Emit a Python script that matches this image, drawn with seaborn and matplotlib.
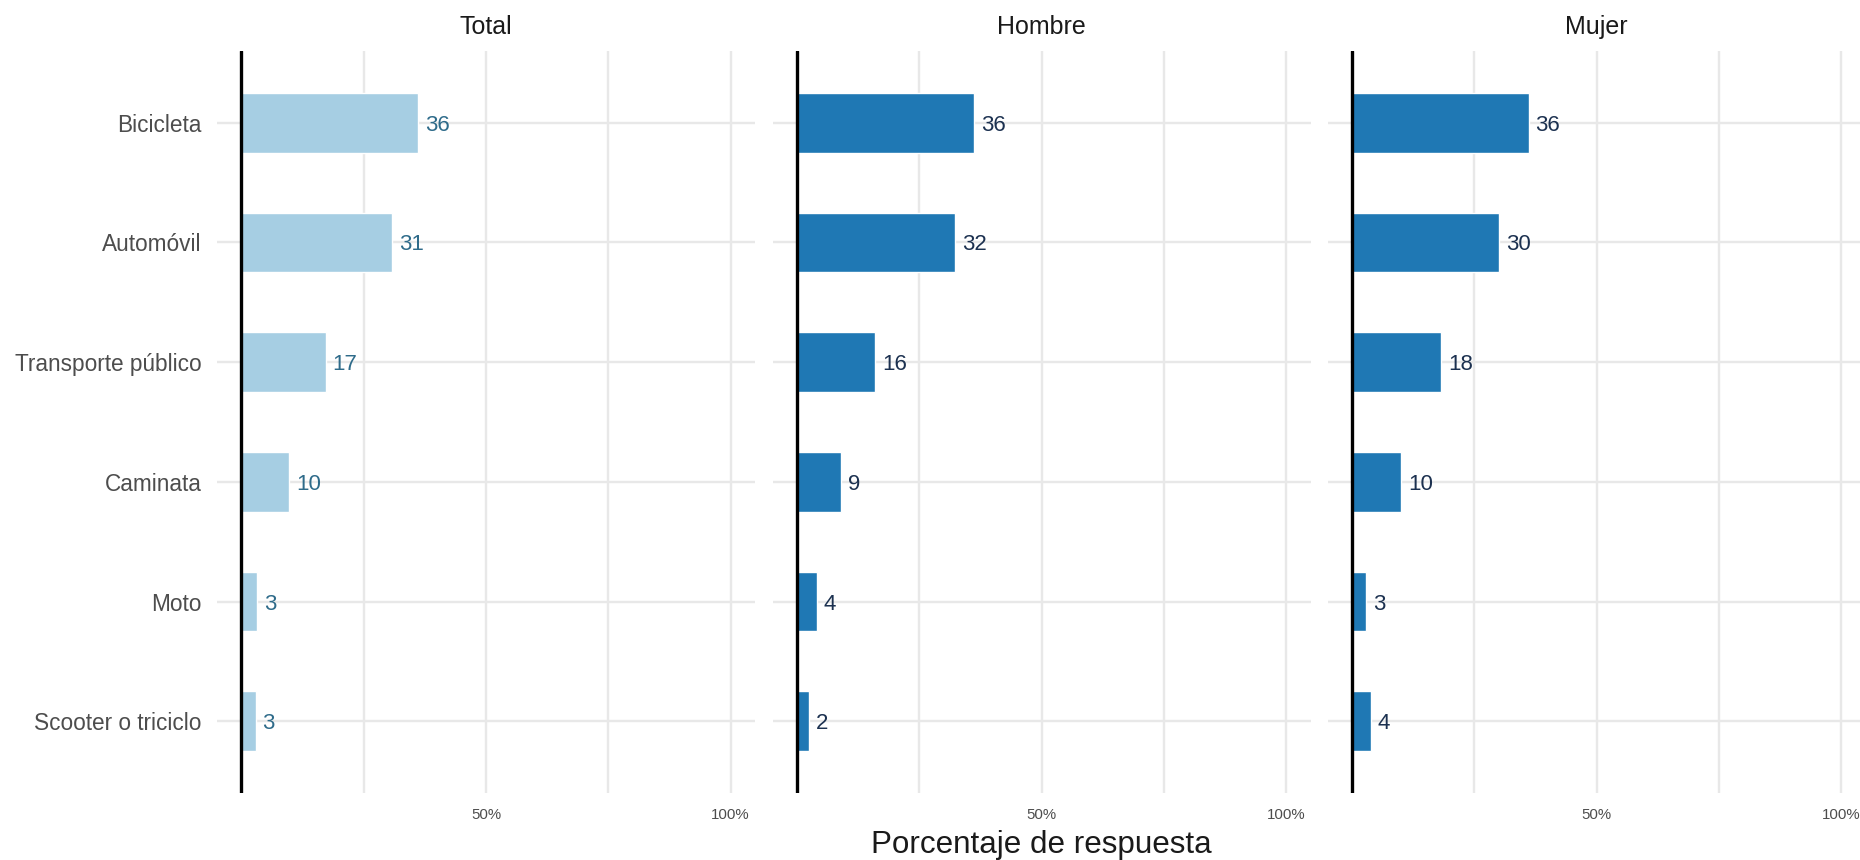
import pandas as pd
import seaborn as sns
import matplotlib
import matplotlib.pyplot as plt

matplotlib.use('Agg')

modos = ['Bicicleta', 'Automóvil', 'Transporte público', 'Caminata', 'Moto', 'Scooter o triciclo']
paneles = ['Total', 'Hombre', 'Mujer']
total = [36.1, 30.8, 17.2, 9.8, 3.2, 2.9]
hombre = [36.2, 32.3, 16.0, 9.1, 4.0, 2.4]
mujer = [36.1, 30.0, 18.3, 10.0, 2.9, 3.8]
xticks = [50, 100]
xticklabels = ['50%', '100%']

sns.set_theme(style='white')
plt.rcParams['font.family'] = ['Liberation Sans', 'DejaVu Sans']

df = pd.DataFrame({
    'modo': modos * 3,
    'panel': [p for p in paneles for _ in modos],
    'valor': total + hombre + mujer,
})

bar_colors = {'Total': '#a6cee3', 'Hombre': '#1f78b4', 'Mujer': '#1f78b4'}
label_colors = {'Total': '#2e6b8a', 'Hombre': '#1c3150', 'Mujer': '#1c3150'}

W, H = 1860, 860
fig = plt.figure(figsize=(W / 100, H / 100), dpi=100)

lefts = [217, 772.5, 1327.5]
pw = 538
top, bottom = 51, 793

for i, panel in enumerate(paneles):
    ax = fig.add_axes([lefts[i] / W, 1 - bottom / H, pw / W, (bottom - top) / H])
    sub = df[df['panel'] == panel]
    ax.set_axisbelow(True)
    sns.barplot(data=sub, x='valor', y='modo', order=modos, color=bar_colors[panel],
                width=0.5, orient='h', ax=ax, saturation=1, zorder=2)
    ax.set_xlim(-5, 105)
    ax.set_ylim(5.6, -0.6)
    ax.set_xticks(xticks)
    ax.set_xticklabels(xticklabels)
    ax.set_xticks([25, 75], minor=True)
    ax.grid(axis='x', which='both', color='#e8e8e8', lw=1.7)
    ax.grid(axis='y', which='major', color='#e8e8e8', lw=1.7)
    ax.tick_params(axis='x', which='both', length=0, pad=11, labelsize=10.8, labelcolor='#4d4d4d')
    ax.tick_params(axis='y', length=0, pad=11, labelsize=16.3, labelcolor='#4d4d4d')
    if i > 0:
        ax.set_yticklabels([])
    for s in ax.spines.values():
        s.set_visible(False)
    ax.axvline(0, color='black', lw=2.4, zorder=3)
    ax.set_xlabel('')
    ax.set_ylabel('')
    for j, v in enumerate(sub['valor']):
        ax.annotate(f'{round(v)}', xy=(v, j), xytext=(5, 0), textcoords='offset points',
                    ha='left', va='center_baseline', fontsize=16, color=label_colors[panel])
    ax.text(0.5, 1 + 24 / (bottom - top), panel, transform=ax.transAxes,
            ha='center', va='center', fontsize=18, color='#1a1a1a')

fig.text(1041 / W, 1 - 845 / H, 'Porcentaje de respuesta', ha='center', va='center',
         fontsize=22.6, color='#1a1a1a')

fig.savefig('out.png', dpi=100)
